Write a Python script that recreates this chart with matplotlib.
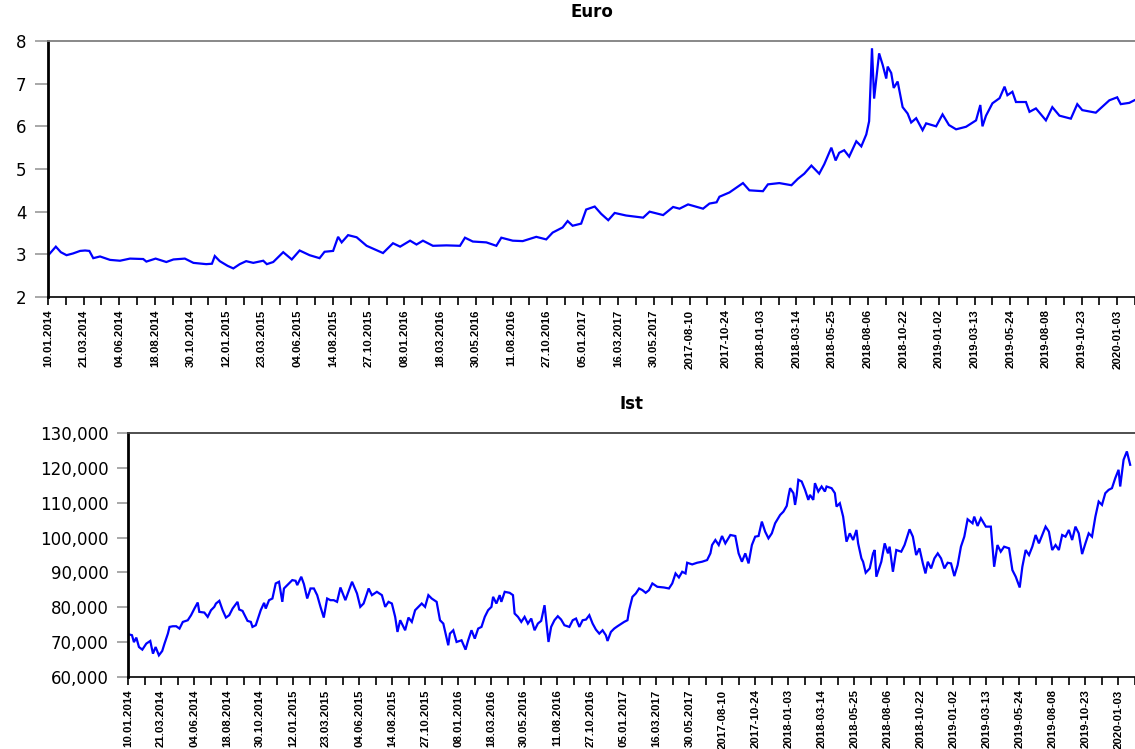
import matplotlib
matplotlib.use("Agg")
import matplotlib.pyplot as plt
from matplotlib.ticker import FixedLocator, FuncFormatter

# ---------------- data ----------------
date_labels = ["10.01.2014", "21.03.2014", "04.06.2014", "18.08.2014", "30.10.2014",
               "12.01.2015", "23.03.2015", "04.06.2015", "14.08.2015", "27.10.2015",
               "08.01.2016", "18.03.2016", "30.05.2016", "11.08.2016", "27.10.2016",
               "05.01.2017", "16.03.2017", "30.05.2017", "2017-08-10", "2017-10-24",
               "2018-01-03", "2018-03-14", "2018-05-25", "2018-08-06", "2018-10-22",
               "2019-01-02", "2019-03-13", "2019-05-24", "2019-08-08", "2019-10-23",
               "2020-01-03"]
obs_per_label = 50
n_obs = 1524

euro_obs = [0, 11, 18, 26, 35, 45, 52, 58, 63.5, 73, 87, 101, 115, 133.6, 138, 151, 166, 176,
            192, 204, 222, 230, 234, 241, 252, 260, 269, 278, 288, 302, 307, 316, 330, 342,
            353, 367, 381, 388, 400, 407, 412, 421, 433, 440, 447, 470, 484, 494, 508, 517,
            526, 540, 559, 578, 585, 596, 615, 629, 636, 652, 666, 685, 699, 708, 722, 729,
            736, 748, 755, 767, 776, 786, 795, 811, 835, 844, 863, 877, 886, 898, 919, 928,
            938, 942, 956, 975, 984, 1003, 1010, 1026, 1043, 1052, 1061, 1071, 1082, 1089,
            1099, 1105, 1110, 1117, 1124, 1134, 1141, 1148, 1152, 1156, 1159, 1166, 1171,
            1176, 1178, 1183, 1186.5, 1192, 1199, 1206, 1211, 1218, 1227, 1232, 1246, 1255,
            1264, 1274, 1288, 1302, 1308, 1311, 1316, 1325, 1335, 1342, 1346, 1353, 1358,
            1372, 1377, 1386, 1400, 1409, 1419, 1435, 1444, 1451, 1470, 1489, 1500, 1505,
            1517, 1524]
euro_val = [2.97, 3.18, 3.05, 2.98, 3.02, 3.08, 3.09, 3.08, 2.91, 2.95, 2.87, 2.85, 2.90, 2.89,
            2.83, 2.90, 2.82, 2.88, 2.90, 2.80, 2.77, 2.78, 2.96, 2.84, 2.73, 2.67, 2.77, 2.84,
            2.80, 2.85, 2.77, 2.82, 3.05, 2.88, 3.09, 2.98, 2.91, 3.06, 3.08, 3.41, 3.28, 3.45,
            3.40, 3.30, 3.20, 3.03, 3.26, 3.18, 3.32, 3.23, 3.32, 3.20, 3.21, 3.20, 3.39, 3.30,
            3.28, 3.20, 3.39, 3.32, 3.31, 3.41, 3.35, 3.51, 3.63, 3.78, 3.67, 3.72, 4.05, 4.12,
            3.95, 3.80, 3.97, 3.91, 3.86, 4.00, 3.92, 4.11, 4.07, 4.17, 4.07, 4.19, 4.22, 4.35,
            4.45, 4.67, 4.50, 4.48, 4.64, 4.67, 4.62, 4.77, 4.89, 5.08, 4.89, 5.11, 5.50, 5.20,
            5.38, 5.44, 5.29, 5.65, 5.53, 5.81, 6.12, 7.83, 6.65, 7.71, 7.44, 7.12, 7.40, 7.25,
            6.90, 7.05, 6.45, 6.30, 6.09, 6.19, 5.91, 6.07, 6.00, 6.28, 6.03, 5.93, 5.99, 6.14,
            6.50, 6.00, 6.25, 6.54, 6.66, 6.93, 6.73, 6.81, 6.57, 6.57, 6.34, 6.42, 6.14, 6.45,
            6.25, 6.18, 6.52, 6.38, 6.32, 6.61, 6.68, 6.52, 6.55, 6.61]

ist_obs = [0, 6, 9, 12.6, 16.6, 21.7, 27.7, 33.7, 37.8, 41.8, 46.8, 51.8, 55.3, 60.4, 62.9, 67.9,
           73, 78, 83, 90.5, 95.5, 100.6, 105.6, 108, 115.6, 120.7, 125.7, 130.7, 133.2, 138.3,
           143.3, 148.3, 153.3, 158.4, 165.9, 168.4, 173.4, 181, 186, 188.5, 193.5, 201, 206.1,
           208.6, 213.6, 218.7, 223.7, 228.7, 233.7, 236.2, 241.3, 248.8, 253.8, 256.3, 262.4,
           266.4, 271.4, 276.4, 281.5, 286.5, 291.5, 296.5, 301.6, 306.6, 311.6, 316.6, 321.7,
           329.2, 339.3, 346.8, 351.8, 356.8, 364.4, 369.4, 376.9, 384.5, 389.5, 394.5, 399.6,
           404.6, 408.1, 412.2, 414.7, 419.7, 424.7, 429.8, 434.8, 439.8, 444.8, 449.9, 454.9,
           459.9, 467.4, 472.5, 477.5, 485, 487.5, 492.6, 497.6, 505.1, 511.2, 515.2, 520.2,
           525.2, 530.3, 535.3, 540.3, 545.3, 550.4, 552.9, 557.9, 562.9, 565.4, 570.5, 578,
           583, 585.5, 590.6, 595.6, 600.6, 605.6, 610.7, 615.7, 620.7, 625.7, 630.8, 633.3,
           636.8, 640.8, 645.8, 650.9, 655.9, 660.9, 668.4, 673.5, 678.5, 683.5, 688.5, 693.6,
           698.6, 703.6, 708.6, 713.7, 718.7, 723.7, 726.2, 731.3, 736.3, 741.3, 751.4, 756.4,
           758.9, 763.9, 769, 774, 779, 784, 789, 794.1, 801.6, 811.7, 819.2, 824.2, 829.2,
           834.3, 839.3, 844.3, 846.8, 854.4, 861.9, 869.4, 877, 882, 884.5, 889.5, 894.6,
           899.6, 904.6, 912.2, 919.7, 924.7, 929.7, 934.8, 939.8, 944.8, 949.8, 954.9, 959.9,
           964.9, 969.9, 975, 980, 987.6, 992.6, 997.6, 1000.1, 1002.7, 1007.7, 1010.2, 1012.7,
           1015.2, 1020.2, 1025.3, 1030.3, 1032.8, 1037.8, 1040.3, 1045.4, 1050.4, 1055.4,
           1057.9, 1065.5, 1070.5, 1073, 1078, 1083, 1088.1, 1093.1, 1098.1, 1103.2, 1105.7,
           1110.7, 1113.2, 1117.2, 1123.3, 1128.3, 1130.8, 1133.3, 1140.8, 1145.9, 1150.9,
           1153.4, 1158.4, 1163.5, 1171, 1176, 1183.6, 1188.6, 1193.6, 1198.6, 1203.7, 1207.7,
           1211.2, 1216.2, 1221.2, 1226.3, 1231.3, 1236.3, 1241.3, 1246.4, 1251.4, 1256.4,
           1261.4, 1266.5, 1271.5, 1279, 1281.5, 1286.6, 1291.6, 1299.1, 1306.7, 1311.7,
           1316.7, 1321.7, 1326.8, 1334.3, 1339.3, 1344.4, 1350.4, 1354.4, 1359.4, 1364.5,
           1369.5, 1374.5, 1379.5, 1384.6, 1389.6, 1394.6, 1399.6, 1404.7, 1409.7, 1414.7,
           1419.7, 1424.8, 1429.8, 1434.8, 1439.8, 1444.9, 1449.9, 1454.9, 1459.9, 1465, 1470,
           1475, 1480, 1485.1, 1490.1, 1495.1, 1500.1, 1502.6, 1507.7, 1512.7, 1517.7]
ist_val = [72300, 72000, 70000, 71300, 68600, 67850, 69580, 70340, 66700, 68600, 66220, 67460,
           69580, 72450, 74370, 74560, 74560, 73890, 75800, 76280, 77730, 79640, 81370, 78680,
           78490, 77250, 79160, 80120, 81080, 81850, 79160, 77050, 77730, 79640, 81560, 79360,
           78970, 76100, 75810, 74370, 74850, 79160, 81270, 79640, 82040, 82520, 86840, 87320,
           81560, 85400, 86360, 87800, 87600, 86360, 88760, 86650, 82520, 85400, 85400, 83480,
           80120, 77050, 82520, 82040, 82040, 81560, 85680, 82040, 87320, 83960, 80120, 81080,
           85400, 83480, 84440, 83480, 80120, 81560, 81080, 77250, 72930, 76290, 75330, 73410,
           77050, 75810, 79160, 80120, 81080, 80120, 83480, 82520, 81560, 76290, 75330, 69100,
           72450, 73410, 70050, 70530, 67850, 70530, 73410, 71010, 73890, 74370, 77250, 79160,
           80120, 83000, 81080, 83480, 81560, 84440, 84150, 83480, 78210, 77250, 75810, 77250,
           75330, 76770, 73410, 75330, 76100, 80600, 76290, 70050, 74370, 76290, 77440, 76480,
           74850, 74370, 76290, 76770, 74370, 76290, 76480, 77730, 75330, 73600, 72450, 73410,
           71970, 70340, 72930, 73890, 74560, 75810, 76290, 79160, 83000, 83960, 85400, 84920,
           84150, 84920, 86840, 85880, 85680, 85400, 86840, 89710, 88560, 90190, 89710, 92780,
           92300, 92780, 93070, 93550, 95470, 97860, 99300, 97860, 100450, 98340, 100740,
           100450, 95470, 93070, 95470, 92590, 97860, 100260, 100450, 104580, 101700, 99780,
           101220, 104100, 106490, 107450, 109080, 111770, 114170, 112730, 109370, 112250,
           116570, 116090, 113690, 110810, 112250, 110810, 115610, 113210, 114650, 113210,
           114650, 114170, 112730, 108890, 109850, 106010, 98820, 101220, 99300, 102180, 98340,
           94030, 93070, 89910, 91150, 95470, 96430, 88760, 93070, 98340, 95470, 97390, 90190,
           96430, 95950, 97860, 102370, 100260, 94990, 96910, 92590, 89710, 93070, 91150, 94030,
           95470, 94030, 91150, 92780, 92590, 88950, 92110, 97390, 100260, 105250, 104100,
           106010, 103330, 105540, 103140, 103140, 91630, 97860, 95950, 97390, 96910, 90670,
           88760, 85680, 91630, 96430, 94990, 97390, 100740, 98340, 100740, 103140, 101700,
           96430, 97860, 96430, 100740, 100260, 102180, 99300, 103140, 101220, 95270, 98340,
           101220, 100260, 106010, 110330, 109370, 112730, 113690, 114170, 117050, 119440,
           114650, 122320, 124710, 120880]

euro_ticks = [2, 3, 4, 5, 6, 7, 8]
ist_ticks = [60000, 70000, 80000, 90000, 100000, 110000, 120000, 130000]

# ---------------- figure ----------------
W, H = 1135, 749
fig = plt.figure(figsize=(W / 100, H / 100), dpi=100)
fig.patch.set_facecolor("white")

tick_font = "DejaVu Sans"
date_font = "Liberation Sans"
line_color = "#0000FF"


def style_axes(ax, xs, ys, yticks, yfmt, ytick_len, title):
    ax.plot(xs, ys, color=line_color, lw=1.6, solid_joinstyle="miter")
    ax.set_xlim(0, n_obs)
    ax.set_ylim(yticks[0], yticks[-1])
    ax.yaxis.set_major_locator(FixedLocator(yticks))
    ax.yaxis.set_major_formatter(FuncFormatter(yfmt))
    major = [i * obs_per_label for i in range(len(date_labels))]
    minor = [i * obs_per_label + obs_per_label / 2 for i in range(len(date_labels))]
    ax.set_xticks(major)
    ax.set_xticklabels(date_labels, rotation=90, family=date_font, fontsize=8.2,
                       fontweight="bold", va="top", ha="center")
    ax.set_xticks(minor, minor=True)
    ax.tick_params(axis="x", which="both", direction="out", length=6, width=1.2,
                   color="black", pad=3)
    ax.tick_params(axis="y", which="major", direction="out", length=ytick_len, width=1.2,
                   color="#999999", pad=6)
    for lab in ax.get_yticklabels():
        lab.set_family(tick_font)
        lab.set_fontsize(12)
    ax.spines["left"].set_linewidth(2.0)
    ax.spines["left"].set_color("black")
    ax.spines["bottom"].set_linewidth(1.2)
    ax.spines["bottom"].set_color("black")
    ax.spines["top"].set_linewidth(1.3)
    ax.spines["right"].set_visible(False)
    ax.set_title(title, fontsize=12, fontweight="bold", family=tick_font, pad=17)


ax1 = fig.add_axes([48 / W, 1 - 297 / H, (W - 48) / W, 256 / H])
style_axes(ax1, euro_obs, euro_val, euro_ticks, lambda v, p: f"{int(v)}", 9.5, "Euro")
ax1.spines["top"].set_color("#7f7f7f")

ax2 = fig.add_axes([128 / W, 1 - 677 / H, (W - 128) / W, 244 / H])
style_axes(ax2, ist_obs, ist_val, ist_ticks, lambda v, p: f"{int(v):,}", 8, "Ist")
ax2.spines["top"].set_color("#404040")

fig.savefig("out.png", dpi=100, facecolor="white")
